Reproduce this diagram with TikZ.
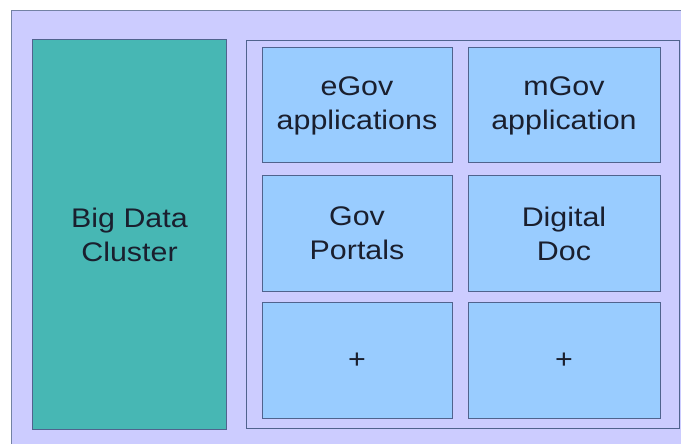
\documentclass[tikz,border=0pt]{standalone}
\usepackage{fontspec}
\setmainfont[FakeStretch=1.13]{Liberation Sans}
\usetikzlibrary{positioning}
\definecolor{lavender}{HTML}{CCCCFF}
\definecolor{clusterteal}{HTML}{47B7B4}
\definecolor{cellblue}{HTML}{99CCFF}
\definecolor{edgeblue}{HTML}{50638E}
\definecolor{textblack}{HTML}{1A1F2E}
\tikzset{
  box/.style={draw=edgeblue,line width=1bp,inner sep=0pt,align=center,
    text=textblack,font=\fontsize{27}{34}\selectfont},
  cell/.style={box,fill=cellblue,minimum width=190bp,minimum height=115bp},
  cluster/.style={box,fill=clusterteal,minimum width=193bp,minimum height=389bp}
}
\begin{document}
\begin{tikzpicture}[x=1bp,y=-1bp]
\useasboundingbox (0,0) rectangle (681,444);
\clip (0,0) rectangle (681,444);
% background
\draw[fill=lavender,draw=edgeblue!80,line width=1bp] (11,11) rectangle (700,460);
\draw[draw=edgeblue,line width=1bp] (246,41) rectangle (679,428);
% left block
\node[cluster] (bigdata) at (129.5,234.5) {Big Data\\Cluster};
% grid of services
\node[cell] (egov) at (357,105.5) {eGov\\applications};
\node[cell,minimum width=192bp] (mgov) at (564,105.5) {mGov\\application};
\node[cell] (portals) at (357,233.5) {Gov\\Portals};
\node[cell,minimum width=192bp] (digidoc) at (564,233.5) {Digital\\Doc};
\node[cell] (plusa) at (357,360.5) {+};
\node[cell,minimum width=192bp] (plusb) at (564,360.5) {+};
\end{tikzpicture}
\end{document}
